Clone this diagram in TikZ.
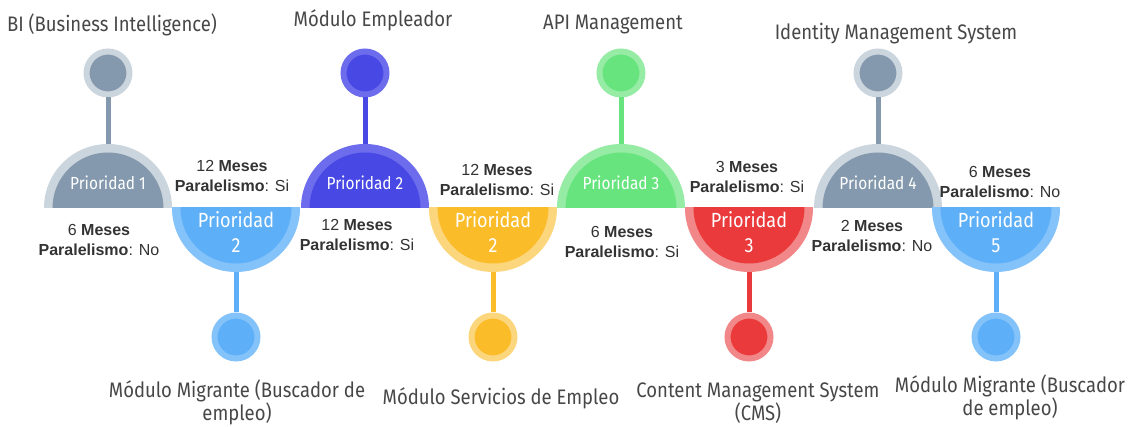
\documentclass[tikz,border=0pt]{standalone}
\usepackage{fontspec}
\setmainfont{Liberation Sans}
\newfontfamily\fira{Fira Sans}[FakeStretch=0.88]
\usetikzlibrary{calc}
\definecolor{gIn}{HTML}{8499AD}
\definecolor{gRg}{HTML}{CBD5DE}
\definecolor{lbIn}{HTML}{5DAFF8}
\definecolor{lbRg}{HTML}{84C2FA}
\definecolor{vIn}{HTML}{4848E5}
\definecolor{vRg}{HTML}{6C6CEC}
\definecolor{yIn}{HTML}{FBBC29}
\definecolor{yRg}{HTML}{FCD67C}
\definecolor{grIn}{HTML}{68E47F}
\definecolor{grRg}{HTML}{96EBA5}
\definecolor{rIn}{HTML}{EB3A3B}
\definecolor{rRg}{HTML}{F18788}
\definecolor{lblcol}{HTML}{474747}
\definecolor{mescol}{HTML}{333333}
\tikzset{
 dot/.style={circle, minimum size=43pt, inner sep=0pt, line width=6pt, draw=#1Rg, fill=#1In},
 stem/.style={line width=5pt, draw=#1In},
 lbl/.style={font=\fira\fontsize{21}{23}\selectfont, text=lblcol, align=center, inner sep=0pt},
 mes/.style={font=\fontsize{16}{20.5}\selectfont, text=mescol, align=center, inner sep=0pt},
 ptop/.style={font=\fira\fontsize{17.5}{20}\selectfont, text=white, inner sep=0pt},
 pbot/.style={font=\fira\fontsize{20.5}{25}\selectfont, text=white, align=center, inner sep=0pt},
}
\newcommand\updisc[2]{\begin{scope}\clip ($(#1)+(-70,-70)$) rectangle ($(#1)+(70,0)$);
 \fill[#2Rg] (#1) circle[radius=64pt]; \fill[#2In] (#1) circle[radius=55.5pt];\end{scope}}
\newcommand\downdisc[2]{\begin{scope}\clip ($(#1)+(-70,0)$) rectangle ($(#1)+(70,70)$);
 \fill[#2Rg] (#1) circle[radius=64pt]; \fill[#2In] (#1) circle[radius=55.5pt];\end{scope}}
\begin{document}
\begin{tikzpicture}[x=1pt,y=-1pt]
\useasboundingbox (0,0) rectangle (1133,427);
% disc centres
\coordinate (d1) at (108,208);
\coordinate (d2) at (236,208);
\coordinate (d3) at (365,208);
\coordinate (d4) at (493,208);
\coordinate (d5) at (621,208);
\coordinate (d6) at (749,208);
\coordinate (d7) at (878,208);
\coordinate (d8) at (996,208);
% small dots
\node[dot=g]  (s1) at (108,73) {};
\node[dot=lb] (s2) at (236,337) {};
\node[dot=v]  (s3) at (365,73) {};
\node[dot=y]  (s4) at (493,337) {};
\node[dot=gr] (s5) at (621,73) {};
\node[dot=r]  (s6) at (749,337) {};
\node[dot=g]  (s7) at (878,73) {};
\node[dot=lb] (s8) at (996,337) {};
% stems
\draw[stem=g]  (s1) -- (d1);
\draw[stem=lb] (s2) -- (d2);
\draw[stem=v]  (s3) -- (d3);
\draw[stem=y]  (s4) -- (d4);
\draw[stem=gr] (s5) -- (d5);
\draw[stem=r]  (s6) -- (d6);
\draw[stem=g]  (s7) -- (d7);
\draw[stem=lb] (s8) -- (d8);
% half discs
\updisc{d1}{g}
\downdisc{d2}{lb}
\updisc{d3}{v}
\downdisc{d4}{y}
\updisc{d5}{gr}
\downdisc{d6}{r}
\updisc{d7}{g}
\downdisc{d8}{lb}
% disc texts
\node[ptop] (p1) at (108,183) {Prioridad 1};
\node[pbot] (p2) at (236,232) {Prioridad\\2};
\node[ptop] (p3) at (365,183) {Prioridad 2};
\node[pbot] (p4) at (493,232) {Prioridad\\2};
\node[ptop] (p5) at (621,183) {Prioridad 3};
\node[pbot] (p6) at (749,232) {Prioridad\\3};
\node[ptop] (p7) at (878,183) {Prioridad 4};
\node[pbot] (p8) at (996,232) {Prioridad\\5};
% duration texts
\node[mes] (m1) at (232,176) {12 \textbf{Meses}\\\textbf{Paralelismo}: Si};
\node[mes] (m2) at (99,240) {6 \textbf{Meses}\\\textbf{Paralelismo}: No};
\node[mes] (m3) at (357,235) {12 \textbf{Meses}\\\textbf{Paralelismo}: Si};
\node[mes] (m4) at (497,180) {12 \textbf{Meses}\\\textbf{Paralelismo}: Si};
\node[mes] (m5) at (622,242) {6 \textbf{Meses}\\\textbf{Paralelismo}: Si};
\node[mes] (m6) at (747,177) {3 \textbf{Meses}\\\textbf{Paralelismo}: Si};
\node[mes] (m7) at (872,236) {2 \textbf{Meses}\\\textbf{Paralelismo}: No};
\node[mes] (m8) at (1000,182) {6 \textbf{Meses}\\\textbf{Paralelismo}: No};
% labels
\node[lbl, anchor=base] (l1) at (112,32) {BI (Business Intelligence)};
\node[lbl, anchor=base] (l3) at (373,27) {Módulo Empleador};
\node[lbl, anchor=base] (l5) at (613,30) {API Management};
\node[lbl, anchor=base] (l7) at (896,40) {Identity Management System};
\node[lbl, anchor=base] (l2) at (237,421) {Módulo Migrante (Buscador de\\empleo)};
\node[lbl, anchor=base] (l4) at (501,405) {Módulo Servicios de Empleo};
\node[lbl, anchor=base] (l6) at (758,421) {Content Management System\\(CMS)};
\node[lbl, anchor=base] (l8) at (1010,416) {Módulo Migrante (Buscador\\de empleo)};
\end{tikzpicture}
\end{document}
